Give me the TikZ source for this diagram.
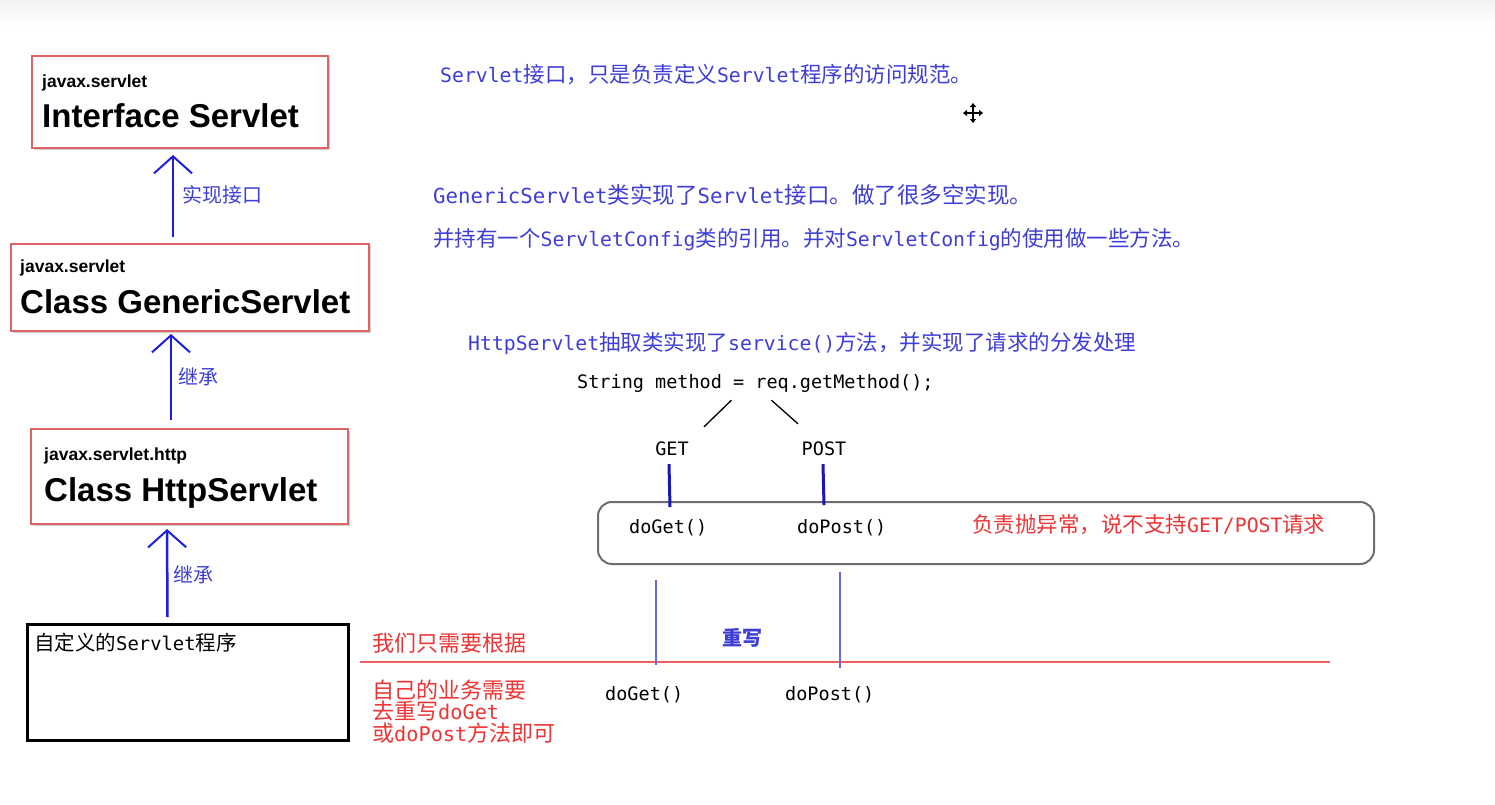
\documentclass[tikz,border=0pt]{standalone}
\usepackage{fontspec}
\setmainfont{Liberation Sans}
\newfontfamily\cjk{Noto Sans CJK SC}
\newfontfamily\mono[Scale=0.92]{DejaVu Sans Mono}
\newfontfamily\codefont{DejaVu Sans Mono}
\usetikzlibrary{arrows.meta,shadows}
% Latin run inside Chinese notes, set in a fixed-width face
\newcommand\lt[1]{{\mono #1}}

\definecolor{boxred}{RGB}{222,100,100}
\definecolor{noteblue}{RGB}{62,62,215}
\definecolor{arrowblue}{RGB}{30,30,225}
\definecolor{notered}{RGB}{238,52,52}
\definecolor{linered}{RGB}{240,95,95}
\definecolor{lineviolet}{RGB}{105,105,228}
\definecolor{roundgray}{RGB}{110,110,110}
\definecolor{topshade}{RGB}{242,242,242}

\begin{document}
\begin{tikzpicture}[x=1pt,y=-1pt,
  classbox/.style={draw=boxred,line width=2pt,fill=white,inner sep=0pt,anchor=north west,
    drop shadow={shadow xshift=1.5pt,shadow yshift=-2pt,fill=black,opacity=.18}},
  plainbox/.style={draw=black,line width=3pt,fill=white,inner sep=0pt,anchor=north west},
  pkgtext/.style={font=\bfseries\fontsize{17.5}{20}\selectfont,anchor=base west,inner sep=0pt},
  nametext/.style={font=\bfseries\fontsize{33}{38}\selectfont,anchor=base west,inner sep=0pt},
  inherit/.style={draw=arrowblue,line width=2.5pt,
    -{Straight Barb[length=17pt,width=38pt,line width=2pt]}},
  arrowlabel/.style={font=\cjk\fontsize{20}{22}\selectfont,text=noteblue,anchor=west,inner sep=0pt},
  bluenote/.style={font=\cjk\fontsize{21.5}{24}\selectfont,text=noteblue,anchor=west,inner sep=0pt},
  rednote/.style={font=\cjk\fontsize{21.5}{24}\selectfont,text=notered,anchor=west,inner sep=0pt},
  codetext/.style={font=\codefont\fontsize{18.5}{22}\selectfont,anchor=west,inner sep=0pt},
  branch/.style={draw=black,line width=1.3pt},
  dispatch/.style={draw=arrowblue!80!black,line width=3pt},
  override/.style={draw=lineviolet,line width=1.8pt},
]
\useasboundingbox (0,0) rectangle (1495,804);
\fill[white] (0,0) rectangle (1495,804);
\shade[top color=topshade,bottom color=white] (0,0) rectangle (1495,28);

% ---- class hierarchy ----
\node[classbox,minimum width=296pt,minimum height=92pt] (iface) at (31,55) {};
\node[pkgtext] (ifacepkg) at (42,87) {javax.servlet};
\node[nametext] (ifacename) at (42,127) {Interface Servlet};

\node[classbox,minimum width=358pt,minimum height=87pt] (gen) at (10,243) {};
\node[pkgtext] (genpkg) at (20,272) {javax.servlet};
\node[nametext] (genname) at (20,313) {Class GenericServlet};

\node[classbox,minimum width=317pt,minimum height=95pt] (http) at (30,428) {};
\node[pkgtext] (httppkg) at (44,460) {javax.servlet.http};
\node[nametext] (httpname) at (44,501) {Class HttpServlet};

\node[plainbox,minimum width=321pt,minimum height=116pt] (custom) at (26,623) {};
\node[anchor=west,inner sep=0pt,font=\cjk\fontsize{20.5}{24}\selectfont] (customname) at (34,643)
  {自定义的\lt{Servlet}程序};

\draw[inherit] ([xshift=-17pt,yshift=6pt]gen.north) -- ([xshift=-7pt,yshift=-6pt]iface.south);
\node[arrowlabel] (impl) at (182,195) {实现接口};
\draw[inherit] ([xshift=-18.5pt,yshift=8pt]http.north) -- ([xshift=-19pt,yshift=-2pt]gen.south);
\node[arrowlabel] (ext1) at (178,377) {继承};
\draw[inherit] ([xshift=-20.5pt,yshift=6pt]custom.north) -- ([xshift=-22.5pt,yshift=-4pt]http.south);
\node[arrowlabel] (ext2) at (173,575) {继承};

% ---- notes ----
\node[bluenote] (note1) at (440,75) {\lt{Servlet}接口，只是负责定义\lt{Servlet}程序的访问规范。};
\node[bluenote,font=\cjk\fontsize{22.5}{24}\selectfont] (note2) at (433,195)
  {\lt{GenericServlet}类实现了\lt{Servlet}接口。做了很多空实现。};
\node[bluenote] (note3) at (433,240) {并持有一个\lt{ServletConfig}类的引用。并对\lt{ServletConfig}的使用做一些方法。};
\node[bluenote] (note4) at (468,343) {\lt{HttpServlet}抽取类实现了\lt{service()}方法，并实现了请求的分发处理};

% ---- dispatch in service() ----
\node[codetext] (getm) at (577,383) {String method = req.getMethod();};
\node[codetext,anchor=center] (get) at (672,449) {GET};
\node[codetext,anchor=center] (post) at (824,449) {POST};
\draw[branch] ([xshift=-24pt,yshift=-8pt]getm.south) -- ([xshift=32pt,yshift=15pt]get.north);
\draw[branch] ([xshift=16pt,yshift=-8pt]getm.south) -- ([xshift=-26pt,yshift=18pt]post.north);

\node[draw=roundgray,line width=2pt,rounded corners=14pt,minimum width=776pt,minimum height=62pt,
  inner sep=0pt,anchor=north west] (rbox) at (597,501) {};
\draw[dispatch] ([xshift=-3pt,yshift=-8pt]get.south) -- ([xshift=-316pt,yshift=-6pt]rbox.north);
\draw[dispatch] ([xshift=-1pt,yshift=-8pt]post.south) -- ([xshift=-162pt,yshift=-4pt]rbox.north);
\node[codetext] (doget1) at (629,528) {doGet()};
\node[codetext] (dopost1) at (797,528) {doPost()};
\node[rednote] (throws) at (972,525) {负责抛异常，说不支持\lt{GET/POST}请求};

% ---- overriding in the user servlet ----
\coordinate (rl0) at (360,662);
\coordinate (rl1) at (1330,662);
\draw[draw=linered,line width=1.5pt] (rl0) -- (rl1);
\coordinate (ov1) at (656,580);
\coordinate (ov1b) at (656,665);
\coordinate (ov2) at (840,572);
\coordinate (ov2b) at (840,668);
\draw[override] (ov1) -- (ov1b);
\draw[override] (ov2) -- (ov2b);
\node[bluenote,anchor=center,font=\cjk\bfseries\fontsize{20}{24}\selectfont] (rewrite) at (742,638) {重写};

\node[rednote,font=\cjk\fontsize{22}{24}\selectfont] (hint1) at (372,643) {我们只需要根据};
\node[rednote,font=\cjk\fontsize{22}{24}\selectfont] (hint2) at (372,690) {自己的业务需要};
\node[rednote,font=\cjk\fontsize{22}{24}\selectfont] (hint3) at (372,711) {去重写\lt{doGet}};
\node[rednote,font=\cjk\fontsize{22}{24}\selectfont] (hint4) at (372,733) {或\lt{doPost}方法即可};
\node[codetext] (doget2) at (605,695) {doGet()};
\node[codetext] (dopost2) at (785,695) {doPost()};

% ---- move cursor ----
\coordinate (cur) at (973,113);
\foreach \dx/\dy in {0/-10,0/10,-10/0,10/0}
  \draw[line width=1.6pt,-{Triangle[length=4pt,width=6pt]}] (cur) -- ++(\dx,\dy);
\end{tikzpicture}
\end{document}
